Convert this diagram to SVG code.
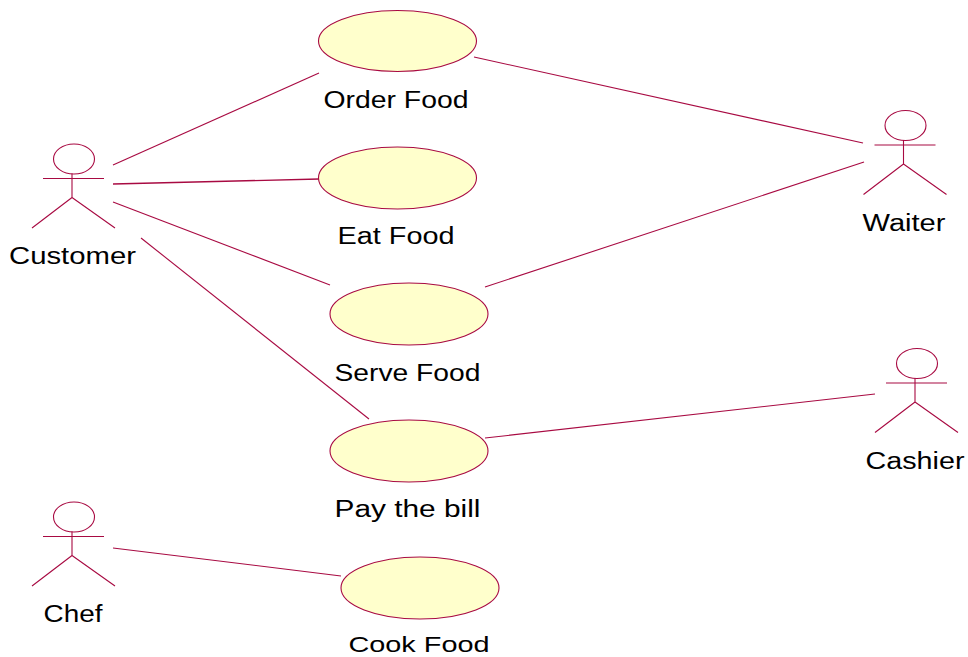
<svg xmlns="http://www.w3.org/2000/svg" width="968" height="657" viewBox="0 0 968 657">
<defs>
<style>
.l{fill:none;stroke:#a80a42;stroke-width:1.1}
.u{fill:#ffffcc;stroke:#a80a42;stroke-width:1.1}
text{font-family:"Liberation Sans",Arial,sans-serif;font-size:23px;fill:#000}
</style>
<g id="actor"><ellipse class="l" cx="2" cy="-19.500" rx="20.500" ry="15"/><path class="l" d="M-29 0H32M0 -5V19M0 19L-40 49.500M0 19L43 49.500"/></g>
</defs>
<rect width="968" height="657" fill="#fff"/>
<g id="connectors">
<path class="l" d="M113 165L319 73"/>
<path class="l" d="M113 184L319 179" style="stroke-width:1.4"/>
<path class="l" d="M113 202L330 285"/>
<path class="l" d="M141 238L369 419"/>
<path class="l" d="M474 57L863 143"/>
<path class="l" d="M485 287L864 162"/>
<path class="l" d="M485 438L875 394"/>
<path class="l" d="M113 548L341 576"/>
</g>
<g id="customer"><use href="#actor" x="72" y="178.500"/><text x="9" y="264" textLength="127" lengthAdjust="spacingAndGlyphs">Customer</text></g>
<g id="waiter"><use href="#actor" x="903.500" y="145"/><text x="862.500" y="231" textLength="83" lengthAdjust="spacingAndGlyphs">Waiter</text></g>
<g id="cashier"><use href="#actor" x="915" y="383"/><text x="865.500" y="469" textLength="99" lengthAdjust="spacingAndGlyphs">Cashier</text></g>
<g id="chef"><use href="#actor" x="72" y="536.500"/><text x="43.500" y="622" textLength="59" lengthAdjust="spacingAndGlyphs">Chef</text></g>
<g id="order-food"><ellipse class="u" cx="397.500" cy="41" rx="79" ry="30.500"/><text x="323.500" y="108" textLength="145" lengthAdjust="spacingAndGlyphs">Order Food</text></g>
<g id="eat-food"><ellipse class="u" cx="397.500" cy="178" rx="79" ry="31"/><text x="337.500" y="244" textLength="117" lengthAdjust="spacingAndGlyphs">Eat Food</text></g>
<g id="serve-food"><ellipse class="u" cx="409" cy="314" rx="79" ry="31"/><text x="334.500" y="381" textLength="146" lengthAdjust="spacingAndGlyphs">Serve Food</text></g>
<g id="pay-the-bill"><ellipse class="u" cx="409" cy="451" rx="79" ry="31"/><text x="334.500" y="517" textLength="146" lengthAdjust="spacingAndGlyphs">Pay the bill</text></g>
<g id="cook-food"><ellipse class="u" cx="420" cy="588" rx="79" ry="31"/><text x="348.500" y="652.300" style="font-size:22px" textLength="141" lengthAdjust="spacingAndGlyphs">Cook Food</text></g>
</svg>
